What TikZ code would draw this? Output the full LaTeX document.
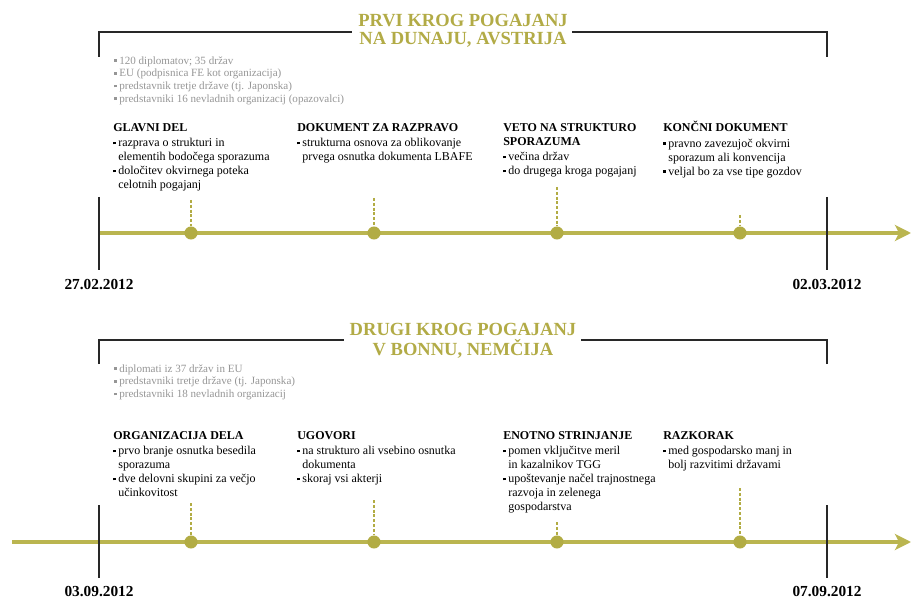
\documentclass[tikz,border=0pt]{standalone}
\usepackage{fontspec}
\setmainfont{Liberation Serif}
\usetikzlibrary{arrows.meta,calc}
\definecolor{myolive}{RGB}{186,181,80}
\definecolor{mydot}{RGB}{178,172,68}
\definecolor{mytitle}{RGB}{178,171,70}
\definecolor{mygray}{RGB}{150,150,150}
\definecolor{myblack}{RGB}{40,40,40}
\newcommand\bul{\makebox[3.8pt][l]{\rule[1.7pt]{1.9pt}{1.9pt}}}
\newcommand\ind{\hspace*{3.8pt}}
\newcommand\hd[1]{\strut\textbf{#1}}
\begin{document}
\begin{tikzpicture}[x=0.75pt,y=-0.75pt,
  tl/.style={draw=myolive, line width=2.3pt},
  dot/.style={circle, fill=mydot, inner sep=0pt, minimum size=9.8pt},
  dsh/.style={draw=mydot, line width=1.6pt, dash pattern=on 2.2pt off 1.4pt},
  blk/.style={draw=myblack, line width=1pt},
  brk/.style={draw=myblack, line width=1.5pt},
  title/.style={text=mytitle, font=\fontsize{13.9}{15}\selectfont\bfseries, inner sep=0pt, anchor=base},
  item/.style={align=left, inner sep=0pt, anchor=north west, font=\fontsize{9}{10.5}\selectfont},
  grey/.style={align=left, inner sep=0pt, anchor=north west, text=mygray, font=\fontsize{8.3}{9.5}\selectfont},
  date/.style={inner sep=0pt, anchor=base, font=\fontsize{11.5}{13}\selectfont\bfseries},
  tip/.style={-{Stealth[length=12pt,width=12pt,inset=3pt]}}
]
\useasboundingbox (0,0) rectangle (911,599);

% ---------- Panel 1 ----------
\node[title] (T1a) at (463,27) {PRVI KROG POGAJANJ};
\node[title] (T1b) at (463,45) {NA DUNAJU, AVSTRIJA};
\coordinate (bl1) at (99,57);
\coordinate (tl1) at (99,32);
\coordinate (br1) at (827,57);
\coordinate (tr1) at (827,32);
\coordinate (L1) at ($(T1a.west)+(-6,0)$);
\coordinate (R1) at ($(T1a.east)+(4,0)$);
\draw[brk] (bl1) -- (tl1) -- (tl1 -| L1);
\draw[brk] (br1) -- (tr1) -- (tr1 -| R1);

\node[grey] (G1) at (114,55.1) {\strut\bul 120 diplomatov; 35 držav\\
\bul EU (podpisnica FE kot organizacija)\\
\bul predstavnik tretje države (tj. Japonska)\\
\bul predstavniki 16 nevladnih organizacij (opazovalci)};

\node[item] (A1) at (113,121.2) {\hd{GLAVNI DEL}\\[1pt]
\bul razprava o strukturi in\\
\ind elementih bodočega sporazuma\\
\bul določitev okvirnega poteka\\
\ind celotnih pogajanj};
\node[item] (B1) at (297,121.2) {\hd{DOKUMENT ZA RAZPRAVO}\\[1pt]
\bul strukturna osnova za oblikovanje\\
\ind prvega osnutka dokumenta LBAFE};
\node[item] (C1) at (503,121.2) {\hd{VETO NA STRUKTURO}\\
\hd{SPORAZUMA}\\[1pt]
\bul večina držav\\
\bul do drugega kroga pogajanj};
\node[item] (D1) at (663,121.2) {\hd{KONČNI DOKUMENT}\\[1pt]
\bul pravno zavezujoč okvirni\\
\ind sporazum ali konvencija\\
\bul veljal bo za vse tipe gozdov};

\coordinate (s1) at (99,233);
\coordinate (e1) at (911,233);
\draw[tl,tip] (s1) -- (e1);
\coordinate (va1) at (99,197);  \coordinate (vb1) at (99,270);
\coordinate (vc1) at (827,197); \coordinate (vd1) at (827,270);
\draw[blk] (va1) -- (vb1);
\draw[blk] (vc1) -- (vd1);

\node[dot] (d11) at (191,233) {};
\node[dot] (d12) at (374,233) {};
\node[dot] (d13) at (557,233) {};
\node[dot] (d14) at (740,233) {};
\coordinate (t11) at (191,200);
\coordinate (t12) at (374,198);
\coordinate (t13) at (557,187);
\coordinate (t14) at (740,215);
\draw[dsh] (t11) -- (d11.north);
\draw[dsh] (t12) -- (d12.north);
\draw[dsh] (t13) -- (d13.north);
\draw[dsh] (t14) -- (d14.north);

\node[date] (dt1) at (99,290) {27.02.2012};
\node[date] (dt2) at (827,290) {02.03.2012};

% ---------- Panel 2 ----------
\node[title] (T2a) at (463,335) {DRUGI KROG POGAJANJ};
\node[title] (T2b) at (463,355) {V BONNU, NEMČIJA};
\coordinate (bl2) at (99,364);
\coordinate (tl2) at (99,340);
\coordinate (br2) at (827,364);
\coordinate (tr2) at (827,340);
\coordinate (L2) at ($(T2a.west)+(-5,0)$);
\coordinate (R2) at ($(T2a.east)+(4,0)$);
\draw[brk] (bl2) -- (tl2) -- (tl2 -| L2);
\draw[brk] (br2) -- (tr2) -- (tr2 -| R2);

\node[grey] (G2) at (114,363.1) {\strut\bul diplomati iz 37 držav in EU\\
\bul predstavniki tretje države (tj. Japonska)\\
\bul predstavniki 18 nevladnih organizacij};

\node[item] (A2) at (113,429.2) {\hd{ORGANIZACIJA DELA}\\[1pt]
\bul prvo branje osnutka besedila\\
\ind sporazuma\\
\bul dve delovni skupini za večjo\\
\ind učinkovitost};
\node[item] (B2) at (297,429.2) {\hd{UGOVORI}\\[1pt]
\bul na strukturo ali vsebino osnutka\\
\ind dokumenta\\
\bul skoraj vsi akterji};
\node[item] (C2) at (503,429.2) {\hd{ENOTNO STRINJANJE}\\[1pt]
\bul pomen vključitve meril\\
\ind in kazalnikov TGG\\
\bul upoštevanje načel trajnostnega\\
\ind razvoja in zelenega\\
\ind gospodarstva};
\node[item] (D2) at (663,429.2) {\hd{RAZKORAK}\\[1pt]
\bul med gospodarsko manj in\\
\ind bolj razvitimi državami};

\coordinate (s2) at (12,542);
\coordinate (e2) at (911,542);
\draw[tl,tip] (s2) -- (e2);
\coordinate (va2) at (99,505);  \coordinate (vb2) at (99,578);
\coordinate (vc2) at (827,505); \coordinate (vd2) at (827,578);
\draw[blk] (va2) -- (vb2);
\draw[blk] (vc2) -- (vd2);

\node[dot] (d21) at (191,542) {};
\node[dot] (d22) at (374,542) {};
\node[dot] (d23) at (557,542) {};
\node[dot] (d24) at (740,542) {};
\coordinate (t21) at (191,503);
\coordinate (t22) at (374,500);
\coordinate (t23) at (557,522);
\coordinate (t24) at (740,488);
\draw[dsh] (t21) -- (d21.north);
\draw[dsh] (t22) -- (d22.north);
\draw[dsh] (t23) -- (d23.north);
\draw[dsh] (t24) -- (d24.north);

\node[date] (dt3) at (99,596) {03.09.2012};
\node[date] (dt4) at (827,596) {07.09.2012};
\end{tikzpicture}
\end{document}
